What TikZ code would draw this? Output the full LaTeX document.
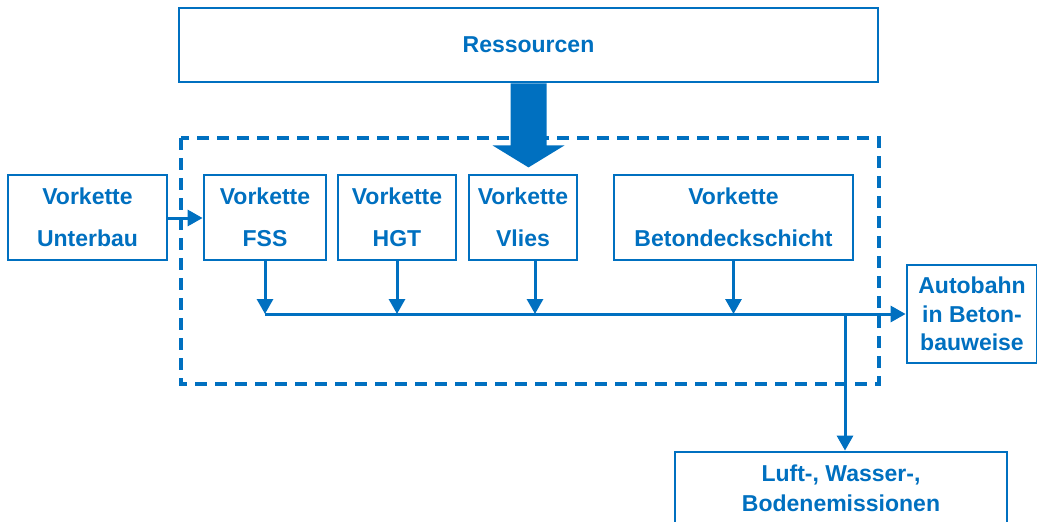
\documentclass[tikz,border=0pt]{standalone}
\usepackage{fontspec}
\setmainfont{Liberation Sans}
\usetikzlibrary{arrows.meta,calc}
\definecolor{flowblue}{HTML}{0070C0}
\begin{document}
\begin{tikzpicture}[x=1pt,y=-1pt,
  box/.style={draw=flowblue,line width=2.8pt,fill=white,text=flowblue,
    font=\bfseries\fontsize{23}{42}\selectfont,align=center,inner sep=0pt},
  flow/.style={draw=flowblue,line width=3pt,-{Triangle[length=15pt,width=16pt]}},
  line/.style={draw=flowblue,line width=3pt}]
\useasboundingbox (0,0) rectangle (1037,522);

% process boundary
\draw[flowblue,line width=3.5pt,dash pattern=on 12pt off 8pt] (181,138) rectangle (879,384);

% boxes
\node[box,minimum width=699pt,minimum height=74pt] (res) at (528.5,45) {Ressourcen};
\node[box,minimum width=159pt,minimum height=85pt] (unter) at (87.5,217.5) {Vorkette\\Unterbau};
\node[box,minimum width=122pt,minimum height=85pt] (fss) at (265,217.5) {Vorkette\\FSS};
\node[box,minimum width=118pt,minimum height=85pt] (hgt) at (397,217.5) {Vorkette\\HGT};
\node[box,minimum width=108pt,minimum height=85pt] (vlies) at (523,217.5) {Vorkette\\Vlies};
\node[box,minimum width=239pt,minimum height=85pt] (beton) at (733.5,217.5) {Vorkette\\Betondeckschicht};
\node[box,minimum width=130pt,minimum height=98pt,font=\bfseries\fontsize{23}{28.5}\selectfont] (auto) at (972,314) {Autobahn\\in Beton-\\bauweise};
\node[box,minimum width=332pt,minimum height=72pt,font=\bfseries\fontsize{23}{30}\selectfont] (luft) at (841,488) {Luft-, Wasser-,\\Bodenemissionen};

% resource input arrow
\fill[flowblue] ($(res.south)+(-18,0)$) -- ++(0,62) -- ++(-18,0) -- ($(res.south)+(0,84)$)
  -- ($(res.south)+(36,62)$) -- ++(-18,0) -- ++(0,-62) -- cycle;

% collector line
\coordinate (j1) at (265,314);
\coordinate (j2) at (845,314);
\draw[flow] (unter.east |- 0,218) -- (fss.west |- 0,218);
\draw[flow] (fss.south) -- (fss.south |- j1);
\draw[flow] (hgt.south) -- (hgt.south |- j1);
\draw[flow] (535,260) coordinate (vl) -- (vl |- j1);
\draw[flow] (beton.south) -- (beton.south |- j1);
\draw[flow] (j1) -- (auto.west |- j1);
\draw[flow] (j2) -- (j2 |- luft.north);
\end{tikzpicture}
\end{document}
